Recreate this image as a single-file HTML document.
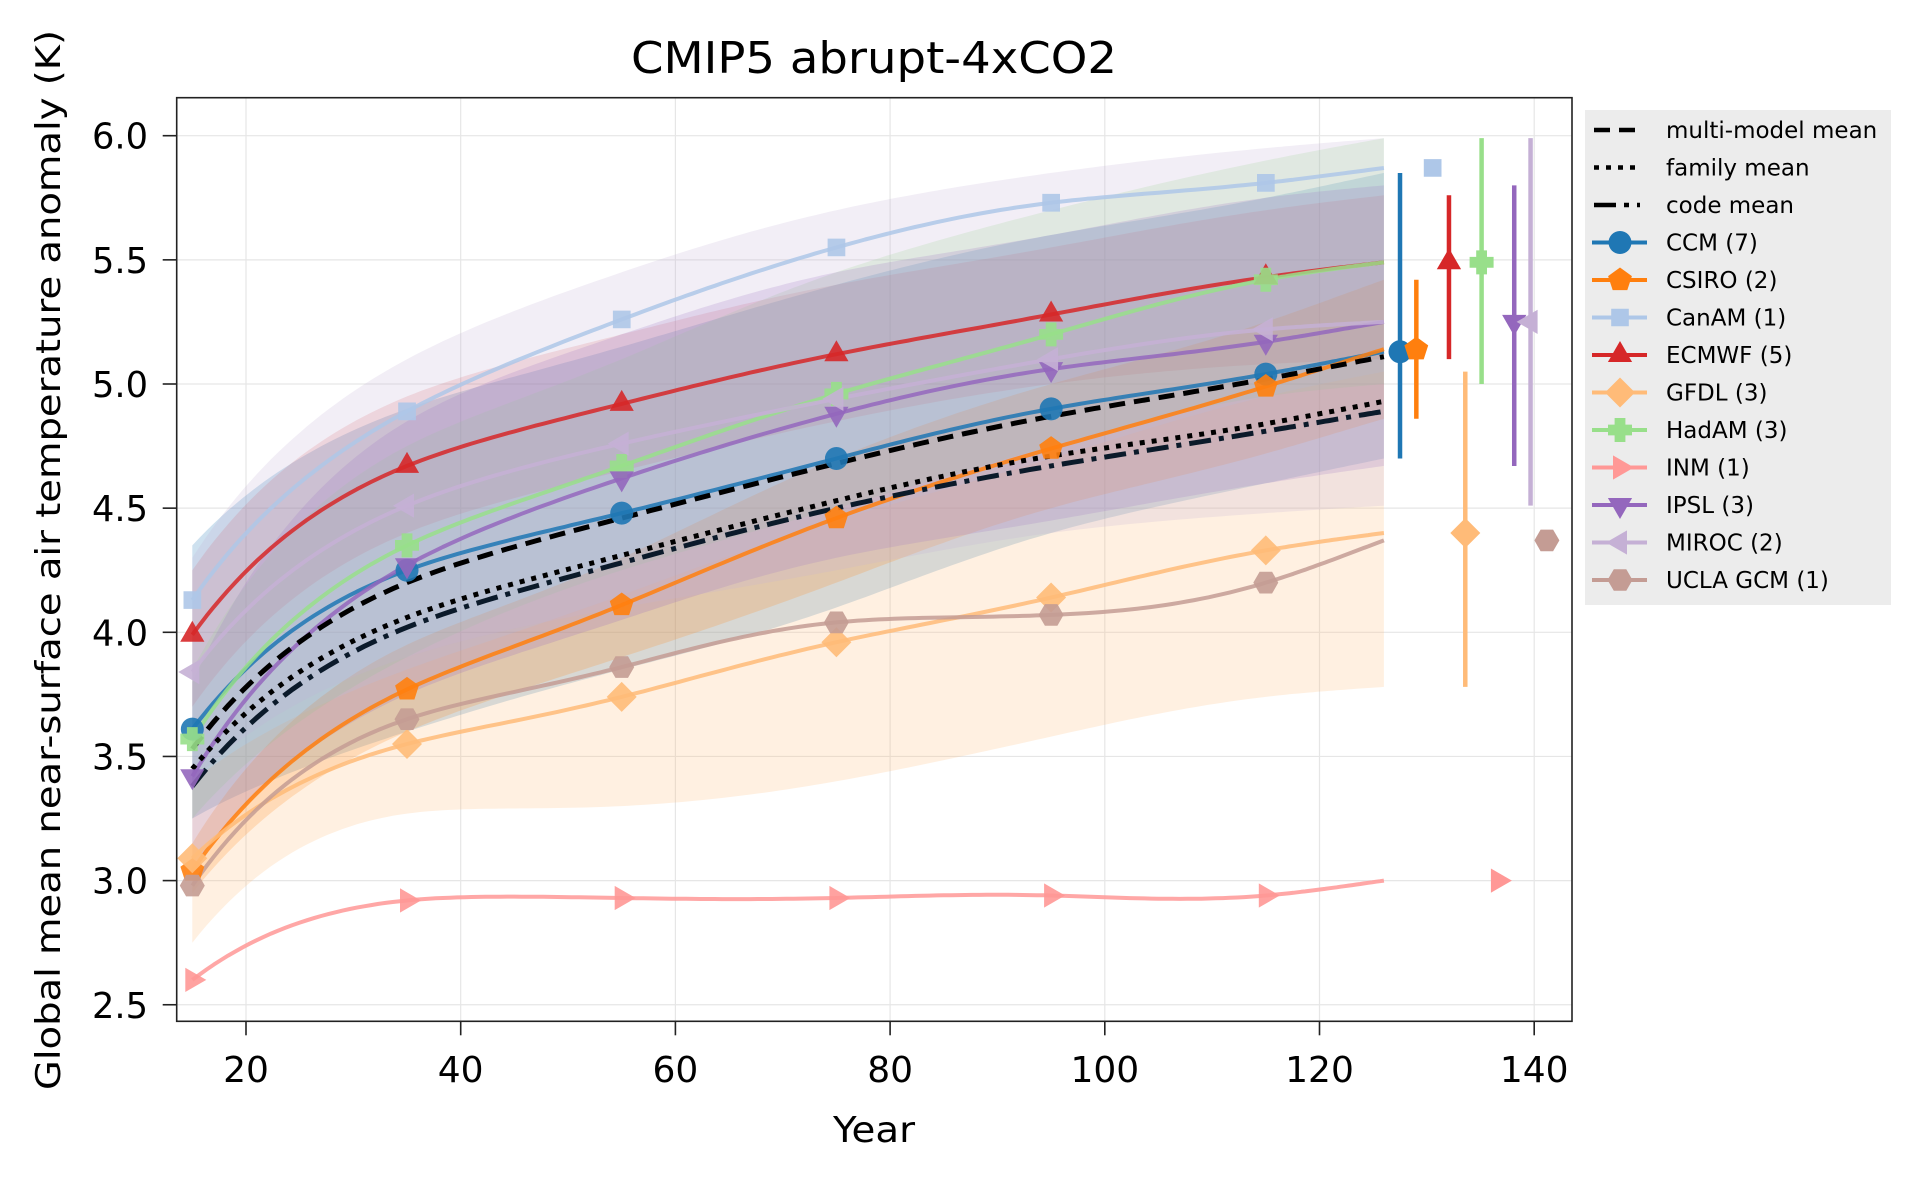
<!DOCTYPE html>
<html><head><meta charset="utf-8">
<style>
html,body{margin:0;padding:0;background:#fff;}
svg{display:block;font-family:"DejaVu Sans","Liberation Sans",sans-serif;}
</style></head>
<body>
<svg id="chart" width="1919" height="1181" viewBox="0 0 1919 1181" xmlns="http://www.w3.org/2000/svg">
<rect width="1919" height="1181" fill="#fff"/>
<g id="grid"></g>
<g id="bands"></g>
<g id="lines"></g>
<g id="errbars"></g>
<rect x="176.7" y="97.7" width="1395.3" height="923.6" fill="none" stroke="#222" stroke-width="1.6"/>
<g id="axes"></g>
<text x="874" y="73" text-anchor="middle" font-size="44" textLength="486" lengthAdjust="spacingAndGlyphs">CMIP5 abrupt-4xCO2</text>
<text x="874" y="1142" text-anchor="middle" font-size="36" textLength="82" lengthAdjust="spacingAndGlyphs">Year</text>
<text transform="translate(60,560) rotate(-90)" text-anchor="middle" font-size="34" textLength="1060" lengthAdjust="spacingAndGlyphs">Global mean near-surface air temperature anomaly (K)</text>
<g id="legend"></g>
</svg>
<script>
const years = [15, 35, 55, 75, 95, 115, 126];
const markerYears = [15, 35, 55, 75, 95, 115];
const yTicks = [2.5, 3.0, 3.5, 4.0, 4.5, 5.0, 5.5, 6.0];
const xTicks = [20, 40, 60, 80, 100, 120, 140];
const modelNames = ["CCM (7)","CSIRO (2)","CanAM (1)","ECMWF (5)","GFDL (3)","HadAM (3)","INM (1)","IPSL (3)","MIROC (2)","UCLA GCM (1)"];
const modelColors = ["#1f77b4","#ff7f0e","#aec7e8","#d62728","#ffbb78","#98df8a","#ff9896","#9467bd","#c5b0d5","#c49c94"];
const modelMarkers = ["circle","pentagon","square","triUp","diamond","plus","triRight","triDown","triLeft","hexagon"];
const ccm   = [3.61, 4.25, 4.48, 4.70, 4.90, 5.04, 5.13];
const csiro = [3.04, 3.77, 4.11, 4.46, 4.74, 4.99, 5.14];
const canam = [4.13, 4.89, 5.26, 5.55, 5.73, 5.81, 5.87];
const ecmwf = [3.99, 4.67, 4.92, 5.12, 5.28, 5.43, 5.49];
const gfdl  = [3.09, 3.55, 3.74, 3.96, 4.14, 4.33, 4.40];
const hadam = [3.57, 4.35, 4.67, 4.96, 5.20, 5.42, 5.49];
const inm   = [2.60, 2.92, 2.93, 2.93, 2.94, 2.94, 3.00];
const ipsl  = [3.42, 4.27, 4.62, 4.88, 5.06, 5.17, 5.25];
const miroc = [3.84, 4.51, 4.76, 4.94, 5.10, 5.22, 5.25];
const ucla  = [2.98, 3.65, 3.86, 4.04, 4.07, 4.20, 4.37];
const ccmLo   = [3.25, 3.60, 3.85, 4.10, 4.40, 4.60, 4.70];
const ccmHi   = [4.35, 4.90, 5.15, 5.40, 5.60, 5.75, 5.85];
const csiroLo = [2.95, 3.60, 3.90, 4.20, 4.50, 4.72, 4.86];
const csiroHi = [3.15, 3.95, 4.30, 4.70, 5.00, 5.25, 5.42];
const ecmwfLo = [3.70, 4.40, 4.65, 4.85, 5.00, 5.08, 5.10];
const ecmwfHi = [4.25, 4.95, 5.20, 5.40, 5.55, 5.70, 5.76];
const gfdlLo  = [2.75, 3.27, 3.30, 3.40, 3.58, 3.74, 3.78];
const gfdlHi  = [3.40, 3.85, 4.15, 4.45, 4.70, 4.95, 5.05];
const hadamLo = [3.25, 3.90, 4.25, 4.50, 4.75, 4.95, 5.00];
const hadamHi = [3.85, 4.75, 5.10, 5.45, 5.70, 5.90, 5.99];
const ipslLo  = [3.05, 3.75, 4.05, 4.30, 4.45, 4.60, 4.67];
const ipslHi  = [3.80, 4.85, 5.20, 5.45, 5.60, 5.75, 5.80];
const mirocLo = [3.40, 3.90, 4.10, 4.25, 4.40, 4.48, 4.51];
const mirocHi = [4.30, 5.10, 5.45, 5.70, 5.85, 5.95, 5.99];
const multiMean  = [3.53, 4.20, 4.46, 4.68, 4.87, 5.02, 5.11];
const familyMean = [3.45, 4.06, 4.31, 4.53, 4.71, 4.84, 4.93];
const codeMean   = [3.38, 4.02, 4.28, 4.50, 4.67, 4.81, 4.89];

const series = [ccm, csiro, canam, ecmwf, gfdl, hadam, inm, ipsl, miroc, ucla];
const bandLo = [ccmLo, csiroLo, null, ecmwfLo, gfdlLo, hadamLo, null, ipslLo, mirocLo, null];
const bandHi = [ccmHi, csiroHi, null, ecmwfHi, gfdlHi, hadamHi, null, ipslHi, mirocHi, null];

const NS = "http://www.w3.org/2000/svg";
function X(t){ return 246 + (t - 20) * 10.735; }
function Y(v){ return 135.7 + (6 - v) * 248.3; }
function mk(tag, attrs, parent){ const e=document.createElementNS(NS,tag); for(const k in attrs) e.setAttribute(k,attrs[k]); parent.appendChild(e); return e; }

// natural cubic spline in log(year) space, sampled
function splinePts(ts, ys){
  const xs=ts.map(t=>Math.log(t));
  const n=xs.length, h=[], a=[], l=[1], mu=[0], z=[0], c=new Array(n).fill(0), b=[], d=[];
  for(let i=0;i<n-1;i++) h.push(xs[i+1]-xs[i]);
  for(let i=1;i<n-1;i++) a[i]=3/h[i]*(ys[i+1]-ys[i])-3/h[i-1]*(ys[i]-ys[i-1]);
  for(let i=1;i<n-1;i++){ l[i]=2*(xs[i+1]-xs[i-1])-h[i-1]*mu[i-1]; mu[i]=h[i]/l[i]; z[i]=(a[i]-h[i-1]*z[i-1])/l[i]; }
  for(let j=n-2;j>=0;j--){ c[j]= j>0 ? z[j]-mu[j]*c[j+1] : 0; b[j]=(ys[j+1]-ys[j])/h[j]-h[j]*(c[j+1]+2*c[j])/3; d[j]=(c[j+1]-c[j])/(3*h[j]); }
  const out=[];
  for(let j=0;j<n-1;j++){
    const steps=30;
    for(let s=(j?1:0);s<=steps;s++){
      const t=ts[j]+(ts[j+1]-ts[j])*s/steps, dx=Math.log(t)-xs[j];
      out.push([X(t), Y(ys[j]+b[j]*dx+c[j]*dx*dx+d[j]*dx*dx*dx)]);
    }
  }
  return out;
}
function ptsToD(pts){ return pts.map((p,i)=>(i?"L":"M")+p[0].toFixed(1)+","+p[1].toFixed(1)).join(""); }
function curve(vals){ return splinePts(years, vals); }

function markerPath(type, cx, cy, r){
  const poly = (n, rot) => { let s=""; for(let k=0;k<n;k++){ const a=rot+k*2*Math.PI/n; s+=(k?"L":"M")+(cx+r*Math.cos(a)).toFixed(1)+","+(cy+r*Math.sin(a)).toFixed(1);} return s+"Z"; };
  switch(type){
    case "pentagon": return poly(5,-Math.PI/2);
    case "square": return poly(4,Math.PI/4);
    case "triUp": return poly(3,-Math.PI/2);
    case "triDown": return poly(3,Math.PI/2);
    case "triLeft": return poly(3,Math.PI);
    case "triRight": return poly(3,0);
    case "diamond": return poly(4,0);
    case "hexagon": return poly(6,0);
    case "plus": { const a=r*0.45, b=r; return "M"+(cx-a)+","+(cy-b)+"L"+(cx+a)+","+(cy-b)+"L"+(cx+a)+","+(cy-a)+"L"+(cx+b)+","+(cy-a)+"L"+(cx+b)+","+(cy+a)+"L"+(cx+a)+","+(cy+a)+"L"+(cx+a)+","+(cy+b)+"L"+(cx-a)+","+(cy+b)+"L"+(cx-a)+","+(cy+a)+"L"+(cx-b)+","+(cy+a)+"L"+(cx-b)+","+(cy-a)+"L"+(cx-a)+","+(cy-a)+"Z"; }
    default: return "M"+(cx-r)+","+cy+"A"+r+","+r+" 0 1,0 "+(cx+r)+","+cy+"A"+r+","+r+" 0 1,0 "+(cx-r)+","+cy+"Z";
  }
}
function markerSize(type){ return ({circle:11.5,pentagon:12.5,square:12.5,triUp:14,triDown:14,triLeft:14,triRight:14,diamond:15,hexagon:12.5,plus:12})[type]; }

const grid=document.getElementById("grid");
xTicks.forEach(t=>{ const g=mk("line",{x1:X(t),x2:X(t),y1:97.7,y2:1021.3,stroke:"#e6e6e6","stroke-width":1.2},grid);   });
yTicks.forEach(v=>{ const g=mk("line",{x1:176.7,x2:1572,y1:Y(v),y2:Y(v),stroke:"#e6e6e6","stroke-width":1.2},grid);   });

const axes=document.getElementById("axes");
yTicks.forEach(v=>{
  const l=mk("line",{x1:162.7,x2:176.7,y1:Y(v),y2:Y(v),stroke:"#222","stroke-width":1.6},axes);
   
  const t=mk("text",{x:148,y:Y(v)+13,"text-anchor":"end","font-size":36,textLength:56,lengthAdjust:"spacingAndGlyphs"},axes);
  t.textContent=v.toFixed(1);
   
});
xTicks.forEach(v=>{
  const l=mk("line",{x1:X(v),x2:X(v),y1:1021.3,y2:1035.3,stroke:"#222","stroke-width":1.6},axes);
   
  const t=mk("text",{x:X(v),y:1082,"text-anchor":"middle","font-size":36},axes);
  t.textContent=String(v);
   
});

const bands=document.getElementById("bands");
series.forEach((vals,i)=>{
  const lo=bandLo[i], hi=bandHi[i]; if(!lo) return;
  const top=curve(hi), bot=curve(lo).reverse();
  const d=ptsToD(top.concat(bot))+"Z";
  const p=mk("path",{d:d,fill:modelColors[i],"fill-opacity":(i===3?0.15:0.22),stroke:"none"},bands);
   
});

const lines=document.getElementById("lines");
series.forEach((vals,i)=>{
  const p=mk("path",{d:ptsToD(curve(vals)),fill:"none",stroke:modelColors[i],"stroke-width":4,"stroke-opacity":0.85,"stroke-linejoin":"round"},lines);
   
});
[[multiMean,"16,9","#000"],[familyMean,"5,7","#000"],[codeMean,"22,8,5,8","#0b1a2a"]].forEach(([vals,dash,col])=>{
  const p=mk("path",{d:ptsToD(curve(vals)),fill:"none",stroke:col,"stroke-width":5,"stroke-dasharray":dash},lines);
   
});
series.forEach((vals,i)=>{
  markerYears.forEach((t,k)=>{
    const m=mk("path",{d:markerPath(modelMarkers[i],X(t),Y(vals[k]),markerSize(modelMarkers[i])),fill:modelColors[i],"fill-opacity":0.9},lines);
     
  });
});

const eb=document.getElementById("errbars");
series.forEach((vals,i)=>{
  const t=127.5+i*1.52, v=vals[vals.length-1], x=X(t);
  const lo=bandLo[i], hi=bandHi[i];
  if(lo){
    const l=mk("line",{x1:x,x2:x,y1:Y(hi[hi.length-1]),y2:Y(lo[lo.length-1]),stroke:modelColors[i],"stroke-width":4.5},eb);
     
  }
  const m=mk("path",{d:markerPath(modelMarkers[i],x,Y(v),markerSize(modelMarkers[i])),fill:modelColors[i]},eb);
   
});

const lg=document.getElementById("legend");
const bg=mk("rect",{x:1585,y:110,width:306,height:495,fill:"#ececec"},lg);
 
const legendLabels=["multi-model mean","family mean","code mean"].concat(modelNames);
const legendDash=["16,9","5,7","22,8,5,8"];
legendLabels.forEach((lab,i)=>{
  const y=130+i*37.5;
  const g=mk("g",{},lg);
   
  if(i<3){
    mk("line",{x1:1594,x2:1640,y1:y,y2:y,stroke:"#000","stroke-width":4.5,"stroke-dasharray":legendDash[i]},g);
  } else {
    const c=modelColors[i-3];
    mk("line",{x1:1592,x2:1647,y1:y,y2:y,stroke:c,"stroke-width":4},g);
    mk("path",{d:markerPath(modelMarkers[i-3],1620,y,markerSize(modelMarkers[i-3])),fill:c},g);
  }
  const t=mk("text",{x:1666,y:y+8,"font-size":23},g);
  t.textContent=lab;
});
</script>
</body></html>
